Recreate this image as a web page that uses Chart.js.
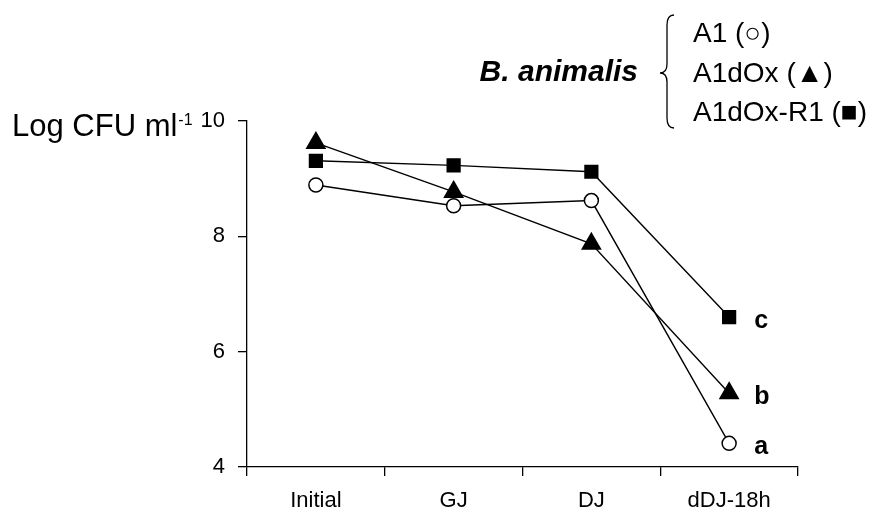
<!DOCTYPE html>
<html>
<head>
<meta charset="utf-8">
<script src="https://cdn.jsdelivr.net/npm/chart.js"></script>
<style>
  html, body { margin: 0; background: #fff; }
  .chart-container { width: 880px; height: 517px; position: relative; }
</style>
</head>
<body>
<div class="chart-container"><canvas id="chart"></canvas></div>
<script>
// values (Log CFU ml-1)
const categories = ['Initial', 'GJ', 'DJ', 'dDJ-18h'];
const a1Values = [8.89, 8.53, 8.62, 4.41];
const a1dOxValues = [9.62, 8.77, 7.87, 5.28];
const a1dOxR1Values = [9.31, 9.23, 9.12, 6.60];
const yTickValues = [4, 6, 8, 10];
const seriesNames = ['A1', 'A1dOx', 'A1dOx-R1'];
const seriesSymbols = ['\u25CB', '\u25B2', '\u25A0'];
const groupLetters = ['a', 'b', 'c'];

const FONT = '"Liberation Sans", Arial, sans-serif';

// text drawn around the plot: axis title, species legend, letters
const annotations = {
  id: 'annotations',
  afterDraw(chart) {
    const { ctx } = chart;
    const xs = chart.scales.x;
    const ys = chart.scales.y;
    ctx.save();
    ctx.fillStyle = '#000';
    ctx.strokeStyle = '#000';

    // y axis title
    ctx.textBaseline = 'alphabetic';
    ctx.textAlign = 'left';
    ctx.font = `31px ${FONT}`;
    const title = 'Log CFU ml';
    ctx.fillText(title, 12, 136);
    const tw = ctx.measureText(title).width;
    ctx.font = `16px ${FONT}`;
    ctx.fillText('-1', 12 + tw + 1, 125);

    // significance letters next to the last points
    ctx.font = `bold 25px ${FONT}`;
    const last = categories.length - 1;
    [a1Values, a1dOxValues, a1dOxR1Values].forEach((vals, i) => {
      const x = xs.getPixelForValue(last) + 25;
      const y = ys.getPixelForValue(vals[last]) + 11;
      ctx.fillText(groupLetters[i], x, y);
    });

    // species legend
    ctx.font = `bold italic 30px ${FONT}`;
    ctx.textAlign = 'right';
    ctx.fillText('B. animalis', 638, 81);

    ctx.font = `28px ${FONT}`;
    ctx.textAlign = 'left';
    seriesNames.forEach((name, i) => {
      ctx.fillText(`${name} (${seriesSymbols[i]})`, 693, 42 + i * 39.5);
    });

    // curly brace
    const bx = 667;
    const top = 15;
    const bot = 128;
    const mid = 73;
    ctx.lineWidth = 1.3;
    ctx.beginPath();
    ctx.moveTo(bx + 7, top);
    ctx.quadraticCurveTo(bx, top, bx, top + 10);
    ctx.lineTo(bx, mid - 9);
    ctx.quadraticCurveTo(bx, mid, bx - 7, mid);
    ctx.quadraticCurveTo(bx, mid, bx, mid + 9);
    ctx.lineTo(bx, bot - 10);
    ctx.quadraticCurveTo(bx, bot, bx + 7, bot);
    ctx.stroke();
    ctx.restore();
  },
};

const lineStyle = {
  borderColor: '#000',
  borderWidth: 1.4,
  pointBorderColor: '#000',
  pointBorderWidth: 1.5,
  tension: 0,
  fill: false,
};

const chartConfig = {
  type: 'line',
  data: {
    labels: categories,
    datasets: [
      {
        ...lineStyle,
        label: seriesNames[0],
        data: a1Values,
        pointStyle: 'circle',
        pointRadius: 7,
        pointBackgroundColor: '#fff',
      },
      {
        ...lineStyle,
        label: seriesNames[1],
        data: a1dOxValues,
        pointStyle: 'triangle',
        pointRadius: 10.5,
        pointBackgroundColor: '#000',
      },
      {
        ...lineStyle,
        label: seriesNames[2],
        data: a1dOxR1Values,
        pointStyle: 'rect',
        pointRadius: 9,
        pointBackgroundColor: '#000',
      },
    ],
  },
  options: {
    responsive: true,
    maintainAspectRatio: false,
    animation: false,
    layout: { padding: { top: 121, right: 82, left: 0, bottom: 0 } },
    plugins: {
      legend: { display: false },
      tooltip: { enabled: false },
    },
    scales: {
      x: {
        type: 'category',
        offset: true,
        grid: {
          offset: true,
          drawOnChartArea: false,
          drawTicks: true,
          tickLength: 9,
          color: '#000',
          lineWidth: 1.3,
        },
        border: { color: '#000', width: 1.3 },
        ticks: {
          color: '#000',
          font: { family: FONT, size: 22 },
          padding: 12,
          maxRotation: 0,
        },
        afterFit(scale) { scale.height = 50; },
      },
      y: {
        min: 4,
        max: 10,
        grid: {
          drawOnChartArea: false,
          drawTicks: true,
          tickLength: 9,
          color: '#000',
          lineWidth: 1.3,
        },
        border: { color: '#000', width: 1.3 },
        ticks: {
          color: '#000',
          font: { family: FONT, size: 22 },
          padding: 13,
        },
        afterBuildTicks(scale) {
          scale.ticks = yTickValues.map((v) => ({ value: v }));
        },
        afterFit(scale) { scale.width = 247; },
      },
    },
  },
  plugins: [annotations],
};

new Chart(document.getElementById('chart'), chartConfig);
</script>
</body>
</html>
